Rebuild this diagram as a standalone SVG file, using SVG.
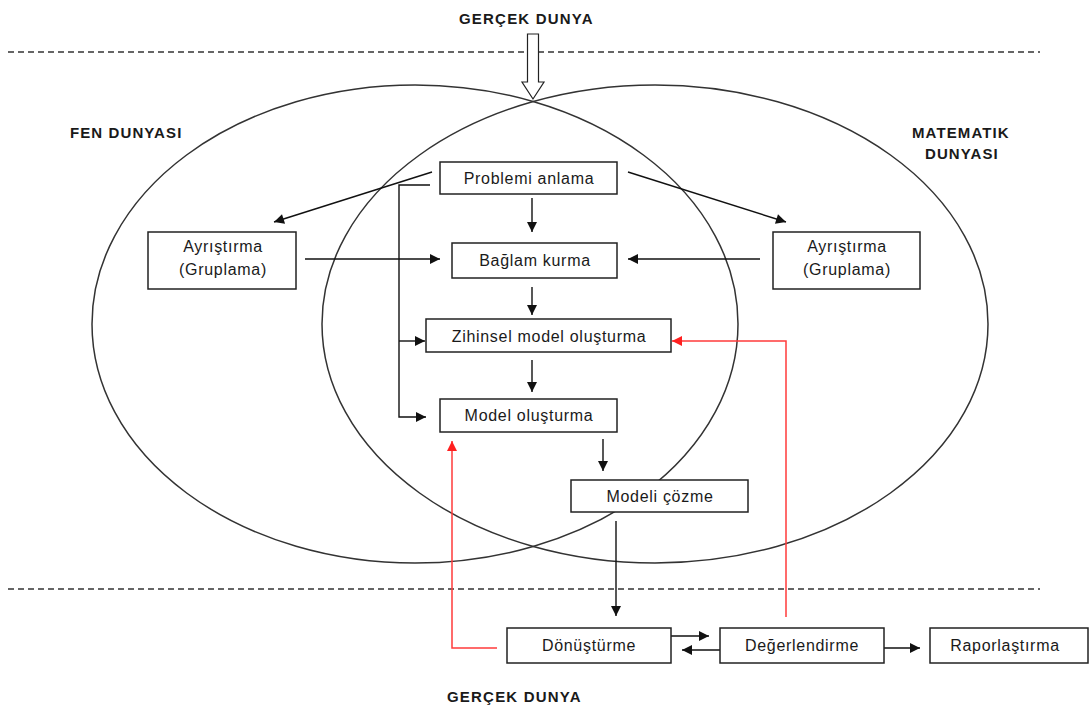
<svg xmlns="http://www.w3.org/2000/svg" width="1092" height="709" viewBox="0 0 1092 709">
<defs>
<style>
.bg{fill:#fff}
.ell{fill:none;stroke:#333;stroke-width:1.5}
.dash{stroke:#333;stroke-width:1.3;stroke-dasharray:6,4;fill:none}
.box{fill:#fff;stroke:#222;stroke-width:1.5}
.lbl{font-family:"Liberation Sans",Arial,sans-serif;font-size:16px;letter-spacing:0.7px;fill:#1a1a1a;text-anchor:middle}
.ttl{font-family:"Liberation Sans",Arial,sans-serif;font-size:15px;font-weight:bold;letter-spacing:1.1px;fill:#1a1a1a}
.con{fill:none;stroke:#111;stroke-width:1.4}
.red{fill:none;stroke:#ff3b3b;stroke-width:1.5}
</style>
<marker id="ah" viewBox="0 0 10 10" refX="10" refY="5" markerWidth="11" markerHeight="10" markerUnits="userSpaceOnUse" orient="auto">
<path d="M0,0 L10,5 L0,10 Z" fill="#111"/>
</marker>
<marker id="ahr" viewBox="0 0 10 10" refX="10" refY="5" markerWidth="11" markerHeight="10" markerUnits="userSpaceOnUse" orient="auto">
<path d="M0,0 L10,5 L0,10 Z" fill="#ff2020"/>
</marker>
</defs>
<rect class="bg" x="0" y="0" width="1092" height="709"/>
<g id="worlds">
<line class="dash" x1="8" y1="52" x2="1040" y2="52"/>
<line class="dash" x1="8" y1="589" x2="1040" y2="589"/>
<ellipse class="ell" cx="415" cy="324" rx="323" ry="239"/>
<ellipse class="ell" cx="655" cy="324" rx="333" ry="239"/>
<path d="M527.5,34 L538.5,34 L538.5,82 L544,82 L533,99 L522,82 L527.5,82 Z" fill="#fff" stroke="#222" stroke-width="1.2"/>
<text class="ttl" x="459" y="24" style="letter-spacing:1.2px">GERÇEK DUNYA</text>
<text class="ttl" x="447" y="702" style="letter-spacing:1.2px">GERÇEK DUNYA</text>
<text class="ttl" x="70" y="138">FEN DUNYASI</text>
<text class="ttl" x="912" y="138">MATEMATIK</text>
<text class="ttl" x="925" y="159">DUNYASI</text>
</g>
<g id="connectors">
<line class="con" x1="432" y1="172" x2="274" y2="222" marker-end="url(#ah)"/>
<line class="con" x1="628" y1="172" x2="786" y2="222" marker-end="url(#ah)"/>
<line class="con" x1="532" y1="198" x2="532" y2="232" marker-end="url(#ah)"/>
<line class="con" x1="305" y1="259" x2="440" y2="259" marker-end="url(#ah)"/>
<line class="con" x1="760" y1="259" x2="628" y2="259" marker-end="url(#ah)"/>
<path class="con" d="M430,185 H399 V417 H426" marker-end="url(#ah)"/>
<line class="con" x1="399" y1="341" x2="425" y2="341" marker-end="url(#ah)"/>
<line class="con" x1="532" y1="287" x2="532" y2="315" marker-end="url(#ah)"/>
<line class="con" x1="532" y1="360" x2="532" y2="392" marker-end="url(#ah)"/>
<line class="con" x1="603" y1="439" x2="603" y2="471" marker-end="url(#ah)"/>
<line class="con" x1="616" y1="521" x2="616" y2="616" marker-end="url(#ah)"/>
<line class="con" x1="671" y1="636" x2="709" y2="636" marker-end="url(#ah)"/>
<line class="con" x1="720" y1="650" x2="682" y2="650" marker-end="url(#ah)"/>
<line class="con" x1="884" y1="648" x2="920" y2="648" marker-end="url(#ah)"/>
<path class="red" d="M497,648 H452 V441" marker-end="url(#ahr)"/>
<path class="red" d="M786,617 V341 H672" marker-end="url(#ahr)"/>
</g>
<g id="problemi"><rect class="box" x="440" y="162" width="177" height="32"/><text class="lbl" x="529" y="184">Problemi anlama</text></g>
<g id="baglam"><rect class="box" x="452" y="243" width="165" height="35"/><text class="lbl" x="535" y="266">Bağlam kurma</text></g>
<g id="zihinsel"><rect class="box" x="426" y="319" width="245" height="33"/><text class="lbl" x="549" y="342">Zihinsel model oluşturma</text></g>
<g id="model"><rect class="box" x="440" y="399" width="177" height="33"/><text class="lbl" x="529" y="421">Model oluşturma</text></g>
<g id="cozme"><rect class="box" x="571" y="480" width="177" height="32"/><text class="lbl" x="660" y="502">Modeli çözme</text></g>
<g id="ayr-fen"><rect class="box" x="148" y="232" width="148" height="57"/><text class="lbl" x="223" y="252">Ayrıştırma</text><text class="lbl" x="223" y="275">(Gruplama)</text></g>
<g id="ayr-mat"><rect class="box" x="773" y="232" width="147" height="57"/><text class="lbl" x="847" y="252">Ayrıştırma</text><text class="lbl" x="847" y="275">(Gruplama)</text></g>
<g id="donusturme"><rect class="box" x="507" y="628" width="164" height="35"/><text class="lbl" x="589" y="651">Dönüştürme</text></g>
<g id="degerlendirme"><rect class="box" x="720" y="628" width="164" height="35"/><text class="lbl" x="802" y="651">Değerlendirme</text></g>
<g id="raporlastirma"><rect class="box" x="930" y="628" width="158" height="35"/><text class="lbl" x="1005" y="651">Raporlaştırma</text></g>
</svg>
